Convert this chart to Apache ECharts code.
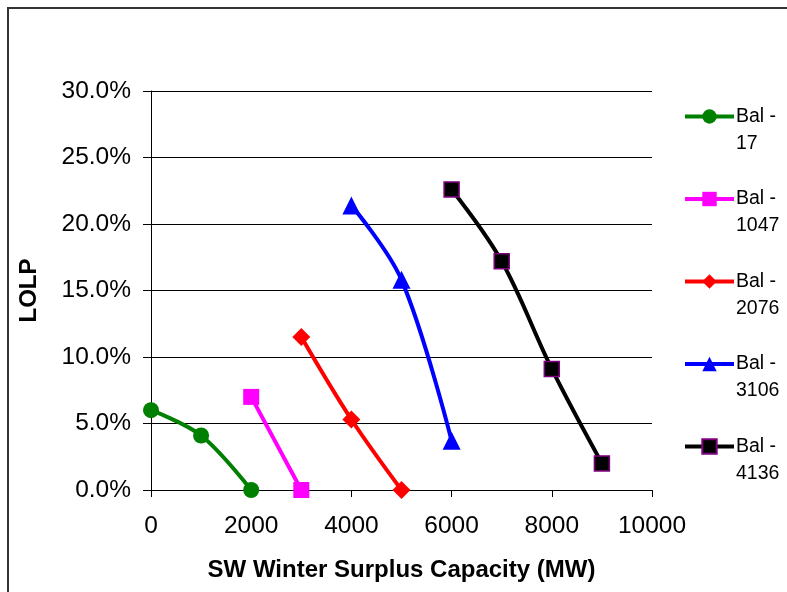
<!DOCTYPE html>
<html>
<head>
<meta charset="utf-8">
<script src="https://cdn.jsdelivr.net/npm/echarts@6/dist/echarts.min.js"></script>
<style>
html,body{margin:0;padding:0;background:#fff;}
#chart{width:787px;height:592px;}
</style>
</head>
<body>
<div id="chart"></div>
<script>
// Data (LOLP in percent)
const seriesNames = ['Bal - 17', 'Bal - 1047', 'Bal - 2076', 'Bal - 3106', 'Bal - 4136'];
const bal17 = [[0, 6.0], [1000, 4.1], [2000, 0.0]];
const bal1047 = [[2000, 7.0], [3000, 0.0]];
const bal2076 = [[3000, 11.5], [4000, 5.3], [5000, 0.0]];
const bal3106 = [[4000, 21.4], [5000, 15.8], [6000, 3.7]];
const bal4136 = [[6000, 22.6], [7000, 17.2], [8000, 9.1], [9000, 2.0]];
const xTicks = [0, 2000, 4000, 6000, 8000, 10000];
const yTicks = [0, 5, 10, 15, 20, 25, 30];

const FONT = '"Liberation Sans", Arial, sans-serif';

function mk(name, data, color, symbol, size, borderColor) {
  return {
    name: name,
    type: 'line',
    data: data,
    smooth: 0.35,
    symbol: symbol,
    symbolSize: size,
    showSymbol: true,
    lineStyle: { color: color, width: 4 },
    itemStyle: { color: color, borderColor: borderColor || color, borderWidth: borderColor ? 1.5 : 0 },
    emphasis: { disabled: true },
    z: 3
  };
}

const chart = echarts.init(document.getElementById('chart'), null, { renderer: 'canvas' });
chart.setOption({
  animation: false,
  backgroundColor: '#fff',
  textStyle: { fontFamily: FONT },
  graphic: [{
    type: 'rect',
    shape: { x: 8, y: 8, width: 820, height: 640 },
    style: { fill: 'none', stroke: '#333', lineWidth: 2 },
    silent: true,
    z: -1
  }],
  grid: { left: 151, right: 135, top: 91, bottom: 102, containLabel: false, outerBoundsMode: 'none' },
  legend: {
    orient: 'vertical',
    left: 678,
    top: 71,
    itemWidth: 49,
    itemHeight: 18,
    itemGap: 1.5,
    data: seriesNames,
    lineStyle: { width: 4 },
    formatter: function (n) { return '\nBal -\n' + n.split(' - ')[1]; },
    textStyle: { fontFamily: FONT, fontSize: 19.5, color: '#000', lineHeight: 27, padding: [0, 0, 0, -3] },
    selectedMode: false
  },
  xAxis: {
    type: 'value',
    min: 0, max: 10000, interval: 2000,
    name: 'SW Winter Surplus Capacity (MW)',
    nameLocation: 'middle',
    nameGap: 68,
    nameTextStyle: { fontFamily: FONT, fontSize: 24, fontWeight: 'bold', color: '#000' },
    axisLine: { show: true, onZero: false, lineStyle: { color: '#000', width: 1 } },
    axisTick: { show: true, length: 7, lineStyle: { color: '#000' } },
    axisLabel: { fontFamily: FONT, fontSize: 24.5, color: '#000', margin: 24,
      formatter: function (v) { return String(v); } },
    splitLine: { show: false }
  },
  yAxis: {
    type: 'value',
    min: 0, max: 30, interval: 5,
    name: 'LOLP',
    nameLocation: 'middle',
    nameGap: 110,
    nameTextStyle: { fontFamily: FONT, fontSize: 24, fontWeight: 'bold', color: '#000' },
    axisLine: { show: true, lineStyle: { color: '#000', width: 1 } },
    axisTick: { show: true, length: 8, lineStyle: { color: '#000' } },
    axisLabel: { fontFamily: FONT, fontSize: 24.5, color: '#000', margin: 20,
      formatter: function (v) { return v.toFixed(1) + '%'; } },
    splitLine: { show: true, lineStyle: { color: '#000', width: 1 } }
  },
  series: [
    mk(seriesNames[0], bal17, '#008000', 'circle', 16),
    mk(seriesNames[1], bal1047, '#ff00ff', 'rect', 16),
    mk(seriesNames[2], bal2076, '#ff0000', 'diamond', 18),
    mk(seriesNames[3], bal3106, '#0000ff', 'triangle', 18),
    mk(seriesNames[4], bal4136, '#000000', 'rect', 15, '#800080')
  ]
});
</script>
</body>
</html>
